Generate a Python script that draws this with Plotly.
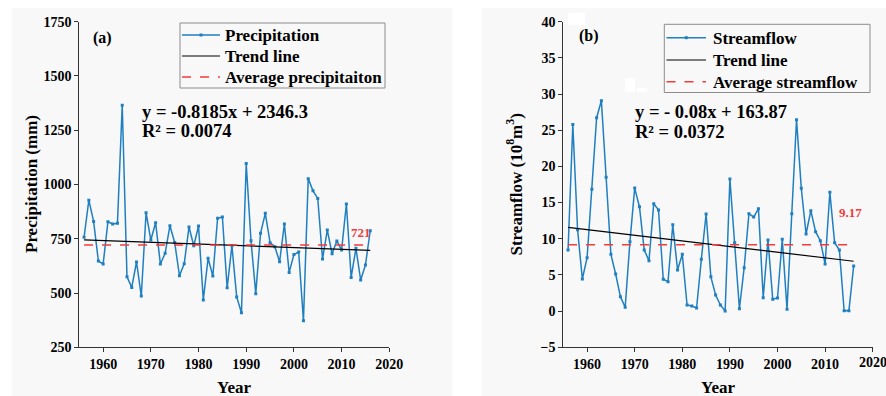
import numpy as np
import plotly.graph_objects as go

years = list(range(1956, 2017))
precip = [757, 928, 830, 647, 634, 828, 818, 821, 1365, 575, 526, 643, 486, 870, 744,
          824, 634, 683, 810, 733, 580, 635, 804, 718, 809, 468, 660, 578, 845, 850,
          524, 718, 482, 409, 1097, 741, 497, 775, 867, 732, 713, 644, 818, 595, 677,
          689, 372, 1027, 971, 936, 657, 790, 681, 740, 698, 910, 572, 706, 560, 629, 787]
streamflow = [8.45, 25.8, 11.25, 4.44, 7.38, 16.84, 26.73, 29.08, 18.49, 7.85,
              5.13, 2.0, 0.53, 9.6, 17.0, 14.43, 8.45, 6.97, 14.85, 13.97,
              4.4, 4.07, 11.94, 5.68, 7.85, 0.85, 0.71, 0.43, 7.16, 13.42,
              4.74, 2.23, 0.85, 0.02, 18.26, 9.46, 0.33, 6.0, 13.46, 13.0,
              14.16, 1.85, 9.83, 1.63, 1.81, 9.93, 0.25, 13.46, 26.45, 16.97,
              10.66, 13.88, 10.98, 9.73, 6.51, 16.42, 9.46, 8.45, 0.06, 0.06, 6.24]
precip_trend = (-0.8185, 2346.3)
precip_mean = 721
stream_mean = 9.17
x_ticks = [1960, 1970, 1980, 1990, 2000, 2010, 2020]
p_ticks = [250, 500, 750, 1000, 1250, 1500, 1750]
s_ticks = [-5, 0, 5, 10, 15, 20, 25, 30, 35, 40]
legend_a = ["Precipitation", "Trend line", "Average precipitaiton"]
legend_b = ["Streamflow", "Trend line", "Average streamflow"]

yr = np.array(years, dtype=float)
p_trend = precip_trend[0] * yr + precip_trend[1]
s_coef = np.polyfit(yr, np.array(streamflow), 1)
s_trend = s_coef[0] * yr + s_coef[1]

W, H = 886, 396
FONT = "Liberation Serif"
BLUE = "#1f7fc0"
RED = "#f23b3b"
BG = "#f8f8f8"
AX = "#333333"

fig = go.Figure()

def add_panel(xa, ya, vals, trend, mean, names):
    fig.add_trace(go.Scatter(x=years, y=vals, mode="lines+markers", name=names[0],
                             line=dict(color=BLUE, width=1.5),
                             marker=dict(symbol="square", size=3, color=BLUE),
                             xaxis=xa, yaxis=ya, showlegend=False))
    fig.add_trace(go.Scatter(x=years, y=trend, mode="lines", name=names[1],
                             line=dict(color="black", width=1.2),
                             xaxis=xa, yaxis=ya, showlegend=False))
    fig.add_trace(go.Scatter(x=[years[0], years[-1]], y=[mean, mean], mode="lines",
                             name=names[2], line=dict(color=RED, width=1.5, dash="dash"),
                             xaxis=xa, yaxis=ya, showlegend=False))

add_panel("x", "y", precip, p_trend, precip_mean, legend_a)
add_panel("x2", "y2", streamflow, s_trend, stream_mean, legend_b)

ydom = [(H - 347.3) / H, (H - 21.7) / H]
axis_common = dict(showline=True, linecolor=AX, linewidth=1.2, ticks="outside",
                   ticklen=4, tickcolor=AX, showgrid=False, zeroline=False,
                   automargin=False,
                   tickfont=dict(family=FONT, size=14, color="black"))

def bold(v):
    return ["<b>%s</b>" % t for t in v]

fig.update_layout(
    width=W, height=H, template="none",
    margin=dict(l=0, r=0, t=0, b=0),
    paper_bgcolor="white", plot_bgcolor="rgba(0,0,0,0)",
    font=dict(family=FONT, color="black"),
    showlegend=False,
    xaxis=dict(domain=[79.3 / W, 389.3 / W], range=[1955, 2020], tickvals=x_ticks,
               ticktext=bold(x_ticks), anchor="y", **axis_common),
    yaxis=dict(domain=ydom, range=[250, 1750], tickvals=p_ticks, ticktext=bold(p_ticks),
               anchor="x", **axis_common),
    xaxis2=dict(domain=[563.3 / W, 872.7 / W], range=[1955, 2020], tickvals=x_ticks,
                ticktext=bold(x_ticks), anchor="y2", **axis_common),
    yaxis2=dict(domain=ydom, range=[-5, 40], tickvals=s_ticks,
                ticktext=bold(["\u22125" if t < 0 else t for t in s_ticks]),
                anchor="x2", **axis_common),
)

shapes = [
    dict(type="rect", xref="paper", yref="paper", x0=12 / W, x1=452.5 / W,
         y0=0, y1=1 - 8 / H, fillcolor=BG, line=dict(width=0), layer="below"),
    dict(type="rect", xref="paper", yref="paper", x0=481.7 / W, x1=1,
         y0=0, y1=1 - 8 / H, fillcolor=BG, line=dict(width=0), layer="below"),
    dict(type="rect", xref="paper", yref="paper", x0=568 / W, x1=585 / W,
         y0=1 - 25 / H, y1=1 - 13 / H, fillcolor="white", line=dict(width=0),
         layer="below"),
    dict(type="rect", xref="paper", yref="paper", x0=625 / W, x1=635 / W,
         y0=1 - 92 / H, y1=1 - 78 / H, fillcolor="white", line=dict(width=0),
         layer="below"),
    dict(type="rect", xref="paper", yref="paper", x0=637 / W, x1=647 / W,
         y0=1 - 92 / H, y1=1 - 88 / H, fillcolor="white", line=dict(width=0),
         layer="below"),
]

def px(x):
    return x / W

def py(y):
    return 1 - y / H

def ann(x, y, text, size, color="black", anchor="left", angle=0, yanchor="middle"):
    fig.add_annotation(x=px(x), y=py(y), xref="paper", yref="paper", text=text,
                       showarrow=False, xanchor=anchor, yanchor=yanchor, textangle=angle,
                       font=dict(family=FONT, size=size, color=color))

def legend_box(x0, y0, x1, y1, rows, names, line_x0, line_x1, text_x):
    shapes.append(dict(type="rect", xref="paper", yref="paper", x0=px(x0), x1=px(x1),
                       y0=py(y1), y1=py(y0), fillcolor=BG,
                       line=dict(color="#8c8c8c", width=1)))
    styles = [dict(color=BLUE, width=1.5), dict(color="black", width=1.2),
              dict(color=RED, width=1.5, dash="dash")]
    for ry, nm, st in zip(rows, names, styles):
        shapes.append(dict(type="line", xref="paper", yref="paper", x0=px(line_x0),
                           x1=px(line_x1), y0=py(ry), y1=py(ry), line=st))
        ann(text_x, ry + 0.5, "<b>%s</b>" % nm, 17)
    mx = (line_x0 + line_x1) / 2
    shapes.append(dict(type="rect", xref="paper", yref="paper", x0=px(mx - 1.5),
                       x1=px(mx + 1.5), y0=py(rows[0] + 1.5), y1=py(rows[0] - 1.5),
                       fillcolor=BLUE, line=dict(width=0)))

legend_box(180, 23, 385, 88, [35, 56, 77], legend_a, 182, 220, 223)
legend_box(664.3, 24.3, 870, 92.5, [37.7, 60, 81.7], legend_b, 666.5, 706, 711)

fig.update_layout(shapes=shapes)

# last x tick label of the right panel (plotly hides it at the page edge)
fig.add_annotation(x=x_ticks[-1], xref="x2", y=py(362.5), yref="paper",
                   text="<b>%d</b>" % x_ticks[-1], showarrow=False, xanchor="center",
                   yanchor="middle", font=dict(family=FONT, size=14, color="black"))

# axis titles
ann(31.5, 184.5, "<b>Precipitation (mm)</b>", 17, angle=-90, anchor="center")
ann(515, 184.5, "<b>Streamflow (10<sup>8</sup>m<sup>3</sup>)</b>", 17, angle=-90,
    anchor="center")
ann(234.3, 387, "<b>Year</b>", 17, anchor="center")
ann(718, 387, "<b>Year</b>", 17, anchor="center")

ann(91, 38, "<b>(a)</b>", 16)
ann(577, 36, "<b>(b)</b>", 16)
ann(140, 112, "<b>y = -0.8185x + 2346.3</b>", 18.5)
ann(140, 131, "<b>R² = 0.0074</b>", 18.5)
ann(633, 112, "<b>y = - 0.08x + 163.87</b>", 18.5)
ann(633, 132, "<b>R² = 0.0372</b>", 18.5)
ann(349, 233, "<b>721</b>", 13, RED)
ann(837, 212, "<b>9.17</b>", 13, RED)

fig.write_html("out.html", config={"displayModeBar": False},
               post_script="document.body.style.margin='0';")
